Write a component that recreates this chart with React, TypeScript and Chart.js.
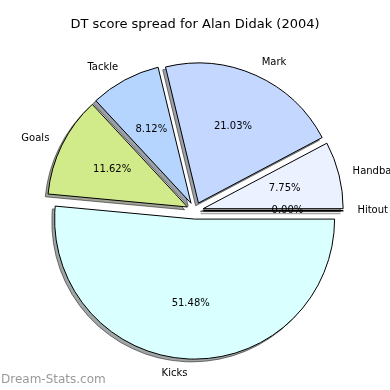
import { useEffect, useRef } from 'react';
import { Chart, registerables } from 'chart.js';

Chart.register(...registerables);

const TITLE = 'DT score spread for Alan Didak (2004)';
const WATERMARK = 'Dream-Stats.com';
// Order: clockwise from east (matches the counter-clockwise matplotlib order reversed)
const categories = ['Hitout', 'Kicks', 'Goals', 'Tackle', 'Mark', 'Handball'];
const values = [0, 51.48, 11.62, 8.12, 21.03, 7.75];
const colors = ['#f4f4ff', '#d9ffff', '#d1eb8b', '#b5d5ff', '#c4d8ff', '#ebf1ff'];

const EXPLODE = 8.4;
const SHADOW = 2.8;
const FONT = '"DejaVu Sans", sans-serif';

function midShift(a: any): [number, number] {
  const m = (a.startAngle + a.endAngle) / 2;
  return [Math.cos(m) * EXPLODE, Math.sin(m) * EXPLODE];
}

function zeroLine(ctx: CanvasRenderingContext2D, a: any) {
  ctx.beginPath();
  ctx.moveTo(a.x, a.y);
  ctx.lineTo(a.x + Math.cos(a.startAngle) * a.outerRadius, a.y + Math.sin(a.startAngle) * a.outerRadius);
  ctx.stroke();
}

const piePlugin = {
  id: 'pieExtras',
  beforeDatasetsDraw(chart: any) {
    const ctx: CanvasRenderingContext2D = chart.ctx;
    const arcs = chart.getDatasetMeta(0).data as any[];
    // shadows
    for (const a of arcs) {
      const [dx, dy] = midShift(a);
      ctx.save();
      ctx.translate(dx - SHADOW, dy + SHADOW);
      if (a.circumference > 0) {
        ctx.filter = 'brightness(0.3) opacity(0.5)';
        a.draw(ctx);
      } else {
        ctx.strokeStyle = 'rgba(0,0,0,0.35)';
        ctx.lineWidth = 1.5;
        zeroLine(ctx, a);
      }
      ctx.restore();
    }
    // slices
    for (const a of arcs) {
      const [dx, dy] = midShift(a);
      ctx.save();
      ctx.translate(dx, dy);
      if (a.circumference > 0) {
        a.draw(ctx);
      } else {
        ctx.strokeStyle = '#000';
        ctx.lineWidth = 1.5;
        zeroLine(ctx, a);
      }
      ctx.restore();
    }
  },
  beforeDatasetDraw() {
    return false;
  },
  afterDatasetsDraw(chart: any) {
    const ctx: CanvasRenderingContext2D = chart.ctx;
    const arcs = chart.getDatasetMeta(0).data as any[];
    const data = chart.data.datasets[0].data as number[];
    const total = data.reduce((s, v) => s + v, 0);
    ctx.save();
    ctx.fillStyle = '#000';
    ctx.font = `10px ${FONT}`;
    ctx.textBaseline = 'middle';
    arcs.forEach((a, i) => {
      const [dx, dy] = midShift(a);
      const m = (a.startAngle + a.endAngle) / 2;
      const cx = a.x + dx;
      const cy = a.y + dy;
      const r = a.outerRadius;
      // category label
      ctx.textAlign = Math.cos(m) > 0 ? 'left' : 'right';
      ctx.fillText(chart.data.labels[i], cx + Math.cos(m) * r * 1.1, cy + Math.sin(m) * r * 1.1);
      // percentage
      ctx.textAlign = 'center';
      const pct = ((data[i] / total) * 100).toFixed(2) + '%';
      ctx.fillText(pct, cx + Math.cos(m) * r * 0.6, cy + Math.sin(m) * r * 0.6);
    });
    // watermark
    ctx.fillStyle = '#9a9a9a';
    ctx.font = `12px ${FONT}`;
    ctx.textAlign = 'left';
    ctx.fillText(WATERMARK, 1, 380);
    ctx.restore();
  },
};

export default function App() {
  const ref = useRef<HTMLCanvasElement | null>(null);
  useEffect(() => {
    if (!ref.current) return;
    const chart = new Chart(ref.current, {
      type: 'pie',
      data: {
        labels: categories,
        datasets: [
          {
            data: values,
            backgroundColor: colors,
            borderColor: '#000',
            borderWidth: 1,
            offset: 0,
            hoverOffset: 0,
          },
        ],
      },
      options: {
        animation: false,
        responsive: false,
        devicePixelRatio: 1,
        events: [],
        rotation: 90,
        layout: { padding: { left: 54.5, right: 54.5, top: 0, bottom: 38.8 } },
        plugins: {
          legend: { display: false },
          tooltip: { enabled: false },
          title: {
            display: true,
            text: TITLE,
            color: '#000',
            font: { family: FONT, size: 13, weight: 'normal' },
            padding: { top: 17, bottom: 37.6 },
          },
        },
      },
      plugins: [piePlugin],
    });
    return () => chart.destroy();
  }, []);
  return (
    <div style={{ position: 'absolute', left: 0, top: 0, width: 390, height: 390, background: '#fff' }}>
      <canvas ref={ref} width={390} height={390} style={{ width: 390, height: 390 }} />
    </div>
  );
}
